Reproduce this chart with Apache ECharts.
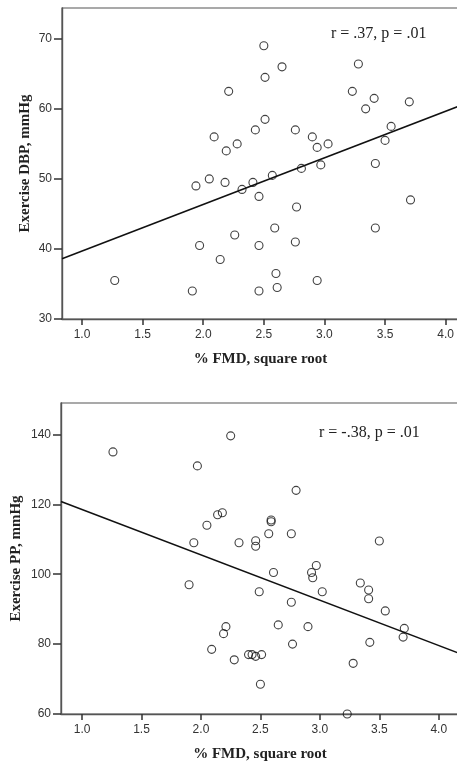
<!DOCTYPE html>
<html>
<head>
<meta charset="utf-8">
<script src="https://cdn.jsdelivr.net/npm/echarts@6/dist/echarts.min.js"></script>
<style>
  html, body { margin: 0; padding: 0; background: #fff; }
  #main { width: 457px; height: 767px; }
</style>
</head>
<body>
<div id="main"></div>
<script>
// top panel: exercise DBP vs sqrt %FMD
var dbpPoints = [
  [2.50, 69.0], [2.65, 66.0], [2.51, 64.5], [2.21, 62.5], [3.28, 66.4],
  [3.23, 62.5], [3.41, 61.5], [3.34, 60.0], [3.70, 61.0], [2.51, 58.5],
  [2.43, 57.0], [2.76, 57.0], [2.09, 56.0], [2.28, 55.0], [2.19, 54.0],
  [2.90, 56.0], [2.94, 54.5], [3.03, 55.0], [3.55, 57.5], [3.50, 55.5],
  [3.42, 52.2], [2.97, 52.0], [2.81, 51.5], [2.57, 50.5], [2.05, 50.0],
  [1.94, 49.0], [2.18, 49.5], [2.41, 49.5], [2.32, 48.5], [2.46, 47.5],
  [3.71, 47.0], [2.77, 46.0], [2.59, 43.0], [3.42, 43.0], [2.26, 42.0],
  [2.76, 41.0], [1.97, 40.5], [2.46, 40.5], [2.14, 38.5], [2.60, 36.5],
  [1.27, 35.5], [2.94, 35.5], [1.91, 34.0], [2.46, 34.0], [2.61, 34.5]
];
var dbpFit = [[0.835, 38.6], [4.11, 60.4]];

// bottom panel: exercise PP vs sqrt %FMD
var ppPoints = [
  [1.26, 135.0], [2.25, 139.6], [1.97, 131.0], [2.80, 124.0], [2.14, 117.0],
  [2.18, 117.6], [2.05, 114.0], [2.59, 115.5], [2.59, 115.0], [2.57, 111.6],
  [2.76, 111.6], [1.94, 109.0], [2.32, 109.0], [2.46, 109.6], [2.46, 108.0],
  [3.50, 109.5], [2.97, 102.5], [2.61, 100.5], [2.93, 100.5], [2.94, 99.0],
  [1.90, 97.0], [3.34, 97.5], [3.41, 95.5], [3.41, 93.0], [2.49, 95.0],
  [3.02, 95.0], [2.76, 92.0], [3.55, 89.5], [2.65, 85.5], [2.90, 85.0],
  [2.21, 85.0], [2.19, 83.0], [3.71, 84.5], [3.70, 82.0], [3.42, 80.5],
  [2.77, 80.0], [2.09, 78.5], [2.40, 77.0], [2.43, 77.0], [2.46, 76.5],
  [2.51, 77.0], [2.28, 75.5], [3.28, 74.5], [2.50, 68.5], [3.23, 60.0]
];
var ppFit = [[0.823, 120.8], [4.17, 77.4]];

var xTicks = [1.0, 1.5, 2.0, 2.5, 3.0, 3.5, 4.0];
var dbpTicks = [30, 40, 50, 60, 70];
var ppTicks = [60, 80, 100, 120, 140];
var notes = ['r = .37, p = .01', 'r = -.38, p = .01'];

var myChart = echarts.init(document.getElementById('main'));

var axisColor = '#555';
var tickColor = '#333';
var titleFont = { fontFamily: 'Liberation Serif', fontWeight: 'bold', fontSize: 15, color: '#222' };
var noteFont = { fontFamily: 'Liberation Serif', fontWeight: 'normal', fontSize: 16, color: '#222' };

function xAxisFor(idx, min, max) {
  return {
    gridIndex: idx,
    type: 'value',
    min: min,
    max: max,
    name: '% FMD, square root',
    nameLocation: 'middle',
    nameGap: 33,
    nameMoveOverlap: false,
    nameTextStyle: titleFont,
    splitLine: { show: false },
    axisLine: { onZero: false, lineStyle: { color: axisColor, width: 1.4 } },
    axisTick: { show: true, customValues: xTicks, length: 6, lineStyle: { color: tickColor, width: 1.5 } },
    axisLabel: {
      customValues: xTicks,
      margin: 10,
      fontFamily: 'Liberation Sans',
      fontSize: 12,
      color: '#333',
      formatter: function (v) { return v.toFixed(1); }
    }
  };
}

function yAxisFor(idx, min, max, ticks, name, gap) {
  return {
    gridIndex: idx,
    type: 'value',
    min: min,
    max: max,
    name: name,
    nameLocation: 'middle',
    nameGap: gap,
    nameMoveOverlap: false,
    nameTextStyle: titleFont,
    splitLine: { show: false },
    axisLine: { onZero: false, lineStyle: { color: axisColor, width: 1.4 } },
    axisTick: { show: true, customValues: ticks, length: 8, lineStyle: { color: tickColor, width: 1.5 } },
    axisLabel: {
      customValues: ticks,
      margin: 10,
      fontFamily: 'Liberation Sans',
      fontSize: 12,
      color: '#333'
    }
  };
}

function scatterFor(idx, data) {
  return {
    type: 'scatter',
    xAxisIndex: idx,
    yAxisIndex: idx,
    data: data,
    symbol: 'circle',
    symbolSize: 8,
    clip: false,
    itemStyle: { color: 'rgba(255,255,255,0)', borderColor: '#111', borderWidth: 1.1 },
    emphasis: { disabled: true }
  };
}

function fitFor(idx, data) {
  return {
    type: 'line',
    xAxisIndex: idx,
    yAxisIndex: idx,
    data: data,
    showSymbol: false,
    lineStyle: { color: '#111', width: 1.5 },
    silent: true
  };
}

option = {
  animation: false,
  backgroundColor: '#fff',
  title: [
    { text: notes[0], left: 326, top: 21, textStyle: noteFont },
    { text: notes[1], left: 314, top: 420, textStyle: noteFont }
  ],
  grid: [
    { left: 62, right: -2, top: 8, height: 311, show: true, borderColor: axisColor, borderWidth: 1.2, backgroundColor: 'transparent', outerBoundsMode: 'none' },
    { left: 61, right: -2, top: 403, height: 311, show: true, borderColor: axisColor, borderWidth: 1.2, backgroundColor: 'transparent', outerBoundsMode: 'none' }
  ],
  xAxis: [xAxisFor(0, 0.835, 4.11), xAxisFor(1, 0.823, 4.17)],
  yAxis: [
    yAxisFor(0, 30, 74.4, dbpTicks, 'Exercise DBP, mmHg', 29),
    yAxisFor(1, 60, 149, ppTicks, 'Exercise PP, mmHg', 37)
  ],
  series: [
    fitFor(0, dbpFit),
    scatterFor(0, dbpPoints),
    fitFor(1, ppFit),
    scatterFor(1, ppPoints)
  ]
};

if (option && typeof option === 'object') {
  myChart.setOption(option, true);
}
</script>
</body>
</html>
